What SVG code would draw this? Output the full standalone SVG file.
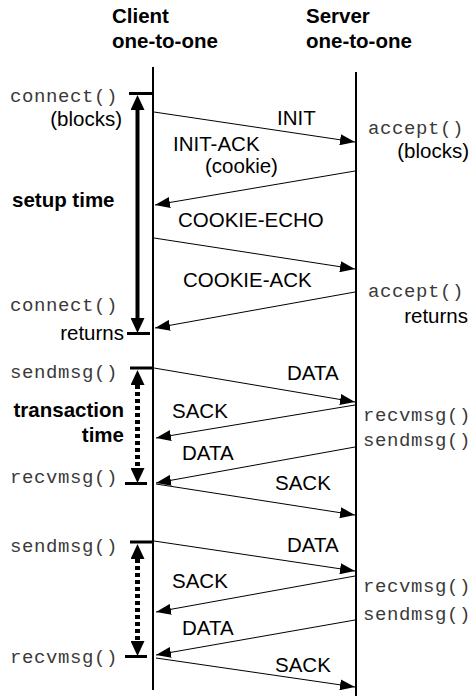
<svg xmlns="http://www.w3.org/2000/svg" width="471" height="696" viewBox="0 0 471 696">
<style>
.sans{font-family:"Liberation Sans",Arial,Helvetica,sans-serif;font-size:20.5px;fill:#000}
.bold{font-weight:bold}
.mono{font-family:"Liberation Mono","Courier New",monospace;font-size:19px;letter-spacing:0.6px;fill:#3a3a3a}
.life{stroke:#000;stroke-width:2;fill:none}
.msg{stroke:#000;stroke-width:1;fill:none;marker-end:url(#ah)}
.bar{stroke:#000;stroke-width:3;fill:none}
.solid{stroke:#000;stroke-width:4;fill:none;marker-start:url(#bh);marker-end:url(#bh)}
.dots{stroke:#000;stroke-width:5;fill:none;stroke-dasharray:4 3;marker-start:url(#bh);marker-end:url(#bh)}
</style>
<defs>
<marker id="ah" markerUnits="userSpaceOnUse" markerWidth="15" markerHeight="11" refX="15" refY="5.5" orient="auto">
<path d="M0,0 L15,5.5 L0,11 z" fill="#000"/>
</marker>
<marker id="bh" markerUnits="userSpaceOnUse" markerWidth="15" markerHeight="14" refX="0" refY="7" orient="auto-start-reverse">
<path d="M0,0 L15,7 L0,14 z" fill="#000"/>
</marker>
</defs>

<g id="client">
<text class="sans bold" x="112" y="23">Client</text>
<text class="sans bold" x="112" y="48">one-to-one</text>
<line class="life" x1="153" y1="67" x2="153" y2="690"/>
</g>
<g id="server">
<text class="sans bold" x="306" y="23">Server</text>
<text class="sans bold" x="306" y="48">one-to-one</text>
<line class="life" x1="356" y1="72" x2="356" y2="696"/>
</g>

<g id="client-labels">
<text class="mono" x="10" y="102">connect()</text>
<text class="sans" x="122" y="126" text-anchor="end">(blocks)</text>
<text class="sans bold" x="12" y="207">setup time</text>
<text class="mono" x="10" y="311">connect()</text>
<text class="sans" x="124" y="340" text-anchor="end">returns</text>
<text class="mono" x="10" y="378">sendmsg()</text>
<text class="sans bold" x="124" y="417" text-anchor="end">transaction</text>
<text class="sans bold" x="124" y="442" text-anchor="end">time</text>
<text class="mono" x="10" y="483">recvmsg()</text>
<text class="mono" x="10" y="552">sendmsg()</text>
<text class="mono" x="10" y="663">recvmsg()</text>
</g>

<g id="server-labels">
<text class="mono" x="368" y="134">accept()</text>
<text class="sans" x="469" y="158" text-anchor="end">(blocks)</text>
<text class="mono" x="368" y="297">accept()</text>
<text class="sans" x="468" y="323" text-anchor="end">returns</text>
<text class="mono" x="363" y="421">recvmsg()</text>
<text class="mono" x="363" y="446">sendmsg()</text>
<text class="mono" x="363" y="592">recvmsg()</text>
<text class="mono" x="363" y="620">sendmsg()</text>
</g>

<g id="intervals">
<line class="bar" x1="129" y1="93.5" x2="152" y2="93.5"/>
<line class="bar" x1="127" y1="333.5" x2="150" y2="333.5"/>
<line class="solid" x1="137.5" y1="110" x2="137.5" y2="318"/>
<line class="bar" x1="130" y1="368" x2="152" y2="368"/>
<line class="bar" x1="125" y1="483.5" x2="147" y2="483.5"/>
<line class="dots" x1="137.5" y1="385" x2="137.5" y2="468"/>
<line class="bar" x1="130" y1="542" x2="152" y2="542"/>
<line class="bar" x1="125" y1="656.5" x2="147" y2="656.5"/>
<line class="dots" x1="137.5" y1="559" x2="137.5" y2="641"/>
</g>

<g id="connectors">
<line class="msg" x1="154" y1="112" x2="355" y2="142"/>
<line class="msg" x1="355" y1="171" x2="155" y2="205"/>
<line class="msg" x1="154" y1="238" x2="355" y2="269"/>
<line class="msg" x1="355" y1="292" x2="155" y2="328"/>
<line class="msg" x1="154" y1="368" x2="355" y2="402"/>
<line class="msg" x1="355" y1="405" x2="156" y2="438"/>
<line class="msg" x1="355" y1="447" x2="156" y2="483"/>
<line class="msg" x1="156" y1="484" x2="355" y2="515"/>
<line class="msg" x1="154" y1="541" x2="355" y2="571"/>
<line class="msg" x1="355" y1="576" x2="156" y2="612"/>
<line class="msg" x1="355" y1="620" x2="156" y2="655"/>
<line class="msg" x1="156" y1="658" x2="355" y2="687"/>
<text class="sans" x="277" y="125">INIT</text>
<text class="sans" x="173" y="151">INIT-ACK</text>
<text class="sans" x="205" y="173">(cookie)</text>
<text class="sans" x="178" y="227">COOKIE-ECHO</text>
<text class="sans" x="183" y="287">COOKIE-ACK</text>
<text class="sans" x="287" y="380">DATA</text>
<text class="sans" x="172" y="418">SACK</text>
<text class="sans" x="182" y="460">DATA</text>
<text class="sans" x="275" y="490">SACK</text>
<text class="sans" x="287" y="552">DATA</text>
<text class="sans" x="172" y="588">SACK</text>
<text class="sans" x="182" y="635">DATA</text>
<text class="sans" x="275" y="672">SACK</text>
</g>
</svg>
